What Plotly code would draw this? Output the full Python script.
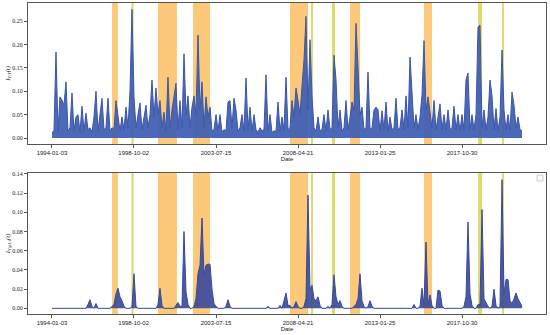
import plotly.graph_objects as go
import pandas as pd

# ---------------- data ----------------
start_date = "1994-01-03"
end_date = "2021-04-24"
n_points = 236

i_yy = [
    0.012, 0.015, 0.184, 0.015, 0.088, 0.081, 0.070, 0.120, 0.015, 0.022,
    0.096, 0.015, 0.045, 0.050, 0.012, 0.068, 0.015, 0.053, 0.018, 0.022,
    0.012, 0.045, 0.100, 0.015, 0.050, 0.085, 0.018, 0.022, 0.085, 0.015,
    0.022, 0.018, 0.080, 0.050, 0.015, 0.045, 0.018, 0.066, 0.022, 0.100,
    0.275, 0.088, 0.022, 0.050, 0.075, 0.018, 0.045, 0.070, 0.022, 0.050,
    0.124, 0.045, 0.107, 0.050, 0.080, 0.022, 0.055, 0.015, 0.130, 0.022,
    0.060, 0.090, 0.117, 0.018, 0.080, 0.022, 0.180, 0.050, 0.090, 0.022,
    0.066, 0.090, 0.050, 0.220, 0.060, 0.120, 0.022, 0.088, 0.045, 0.066,
    0.015, 0.018, 0.050, 0.015, 0.050, 0.012, 0.018, 0.015, 0.077, 0.080,
    0.022, 0.085, 0.060, 0.015, 0.022, 0.050, 0.015, 0.128, 0.018, 0.066,
    0.015, 0.050, 0.018, 0.012, 0.022, 0.015, 0.018, 0.135, 0.015, 0.050,
    0.012, 0.015, 0.015, 0.077, 0.015, 0.045, 0.018, 0.130, 0.018, 0.022,
    0.080, 0.045, 0.107, 0.080, 0.050, 0.111, 0.167, 0.260, 0.060, 0.210,
    0.090, 0.022, 0.015, 0.045, 0.015, 0.018, 0.050, 0.015, 0.060, 0.018,
    0.022, 0.177, 0.124, 0.022, 0.060, 0.015, 0.022, 0.080, 0.018, 0.045,
    0.077, 0.060, 0.245, 0.152, 0.050, 0.066, 0.018, 0.022, 0.141, 0.018,
    0.022, 0.060, 0.066, 0.060, 0.015, 0.058, 0.018, 0.077, 0.015, 0.045,
    0.018, 0.022, 0.085, 0.018, 0.022, 0.060, 0.018, 0.090, 0.022, 0.173,
    0.085, 0.022, 0.050, 0.018, 0.045, 0.092, 0.208, 0.060, 0.088, 0.058,
    0.022, 0.080, 0.018, 0.045, 0.073, 0.018, 0.050, 0.018, 0.060, 0.018,
    0.022, 0.068, 0.018, 0.050, 0.015, 0.050, 0.018, 0.124, 0.139, 0.018,
    0.050, 0.018, 0.050, 0.237, 0.241, 0.022, 0.060, 0.018, 0.045, 0.124,
    0.090, 0.018, 0.063, 0.015, 0.045, 0.188, 0.060, 0.018, 0.050, 0.018,
    0.098, 0.070, 0.022, 0.045, 0.018, 0.015,
]

i_yp = [
    0, 0, 0, 0, 0, 0, 0, 0, 0, 0,
    0, 0, 0, 0, 0, 0, 0, 0, 0.004, 0.009,
    0.002, 0, 0.005, 0, 0, 0, 0, 0, 0, 0,
    0.002, 0.004, 0.015, 0.021, 0.012, 0.008, 0.002, 0, 0, 0,
    0.002, 0.036, 0.002, 0, 0, 0, 0, 0, 0, 0,
    0, 0, 0, 0.004, 0.021, 0.003, 0, 0, 0, 0,
    0, 0, 0.003, 0.006, 0.002, 0.002, 0.080, 0.017, 0.004, 0,
    0, 0.002, 0.010, 0.036, 0.045, 0.094, 0.035, 0.045, 0.046, 0.046,
    0.020, 0.005, 0.002, 0, 0, 0, 0, 0.002, 0.009, 0.002,
    0, 0, 0, 0, 0, 0, 0, 0, 0, 0,
    0, 0, 0, 0, 0, 0, 0, 0, 0.002, 0,
    0, 0, 0, 0, 0.003, 0, 0.008, 0.016, 0.003, 0.003,
    0, 0.002, 0.007, 0.002, 0, 0, 0.002, 0.010, 0.118, 0.020,
    0.024, 0.010, 0.008, 0.012, 0.003, 0, 0, 0, 0.002, 0,
    0.004, 0.035, 0.012, 0.004, 0.008, 0.002, 0, 0, 0, 0,
    0, 0.002, 0.004, 0.010, 0.036, 0.008, 0.002, 0, 0.002, 0.008,
    0.002, 0, 0, 0, 0, 0, 0, 0, 0, 0,
    0, 0, 0, 0, 0, 0, 0, 0, 0, 0,
    0, 0.004, 0, 0, 0.002, 0.021, 0.003, 0.069, 0.004, 0.014,
    0.003, 0, 0, 0.019, 0.018, 0.003, 0, 0, 0, 0,
    0, 0, 0, 0, 0, 0, 0.002, 0.012, 0.090, 0.015,
    0.003, 0, 0, 0.004, 0.004, 0.103, 0.010, 0.006, 0.002, 0,
    0.002, 0.020, 0.003, 0, 0.002, 0.134, 0.015, 0.030, 0.030, 0.008,
    0.005, 0.010, 0.016, 0.010, 0.005, 0.002,
]

tick_dates = ["1994-01-03", "1998-10-02", "2003-07-15",
              "2008-04-21", "2013-01-25", "2017-10-30"]

bands_orange = [("1997-07-01", "1997-11-01"), ("2000-03-01", "2001-04-08"),
                ("2002-03-14", "2003-03-10"), ("2007-11-01", "2008-11-17"),
                ("2011-04-28", "2011-11-26"), ("2015-08-15", "2016-02-01")]
bands_yellow = [("1998-08-17", "1998-10-01"), ("2009-01-20", "2009-03-03"),
                ("2010-04-11", "2010-06-13"), ("2018-10-04", "2018-12-28"),
                ("2020-02-25", "2020-04-07")]

x_range = ["1992-08-12", "2022-09-15"]

# ---------------- figure ----------------
dates = pd.date_range(start_date, end_date, periods=n_points)

fig = go.Figure()
fig.add_trace(go.Scatter(x=dates, y=i_yy, mode="lines", xaxis="x", yaxis="y",
                         line=dict(color="#3b56a8", width=1),
                         fill="tozeroy", fillcolor="rgba(66,96,180,0.95)"))
fig.add_trace(go.Scatter(x=dates, y=i_yp, mode="lines", xaxis="x2", yaxis="y2",
                         line=dict(color="#38489a", width=1),
                         fill="tozeroy", fillcolor="rgba(56,72,154,0.9)"))

shapes = []
for (a, b), col in [(bd, "rgba(250,168,40,0.62)") for bd in bands_orange] + \
                   [(bd, "rgba(205,200,30,0.65)") for bd in bands_yellow]:
    for xr, yr in [("x", "y domain"), ("x2", "y2 domain")]:
        shapes.append(dict(type="rect", xref=xr, yref=yr, x0=a, x1=b, y0=0, y1=1,
                           fillcolor=col, line=dict(width=0), layer="below"))
# empty legend box
shapes.append(dict(type="rect", xref="x2 domain", yref="y2 domain",
                   x0=0.983, x1=0.994, y0=0.943, y1=0.985,
                   line=dict(color="#cccccc", width=1), fillcolor="white"))

tick_font = dict(family="Liberation Sans", size=6, color="#222")
ytick_font = dict(family="Liberation Serif", size=6, color="#222")
axis_common = dict(showline=True, mirror=True, linecolor="#555", linewidth=1,
                   ticks="outside", ticklen=3, tickcolor="#555", showgrid=False,
                   zeroline=False, automargin=False)

xaxis_common = dict(type="date", range=x_range, tickvals=tick_dates,
                    ticktext=tick_dates, tickfont=tick_font,
                    title=dict(text="Date", font=dict(family="Liberation Sans", size=6, color="#222"),
                               standoff=0),
                    **axis_common)

fig.update_layout(
    width=550, height=335,
    margin=dict(l=28, r=4, t=3, b=21, autoexpand=False),
    paper_bgcolor="white", plot_bgcolor="white",
    showlegend=False,
    shapes=shapes,
    xaxis=dict(domain=[0, 1], anchor="y", **xaxis_common),
    xaxis2=dict(domain=[0, 1], anchor="y2", **xaxis_common),
    yaxis=dict(domain=[0.5466, 1], anchor="x", range=[-0.0128, 0.2885],
               tick0=0, dtick=0.05, tickformat=".2f", tickfont=ytick_font,
               title=dict(text="<i>I<sub>Y|Y</sub>(t)</i>",
                          font=dict(family="Liberation Serif", size=6.5, color="#222"),
                          standoff=1),
               **axis_common),
    yaxis2=dict(domain=[0, 0.4534], anchor="x2", range=[-0.0059, 0.141],
                tick0=0, dtick=0.02, tickformat=".2f", tickfont=ytick_font,
                title=dict(text="<i>I<sub>Y|p1:t</sub>(t)</i>",
                           font=dict(family="Liberation Serif", size=6.5, color="#222"),
                           standoff=1),
                **axis_common),
)

fig.write_html("out.html",
               config={"displayModeBar": False},
               post_script="document.body.style.margin='0px';document.body.style.overflow='hidden';")
